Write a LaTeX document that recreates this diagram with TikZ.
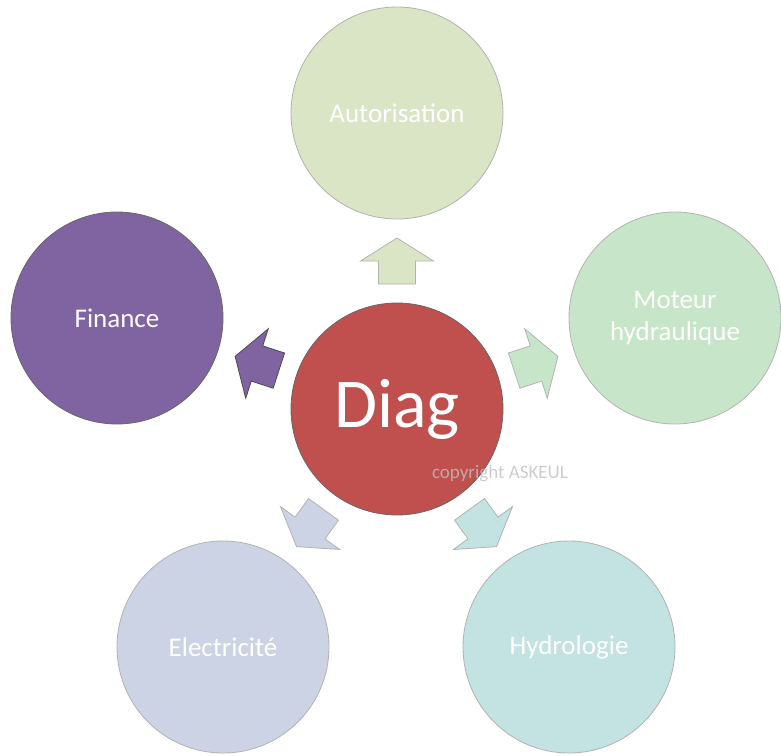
\documentclass[tikz,border=0pt]{standalone}
\usepackage{fontspec}
\setmainfont{Carlito}
\usetikzlibrary{calc}
\definecolor{diagred}{HTML}{C0504D}
\definecolor{finpurple}{HTML}{8064A2}
\definecolor{autgreen}{HTML}{DAE5C6}
\definecolor{motgreen}{HTML}{C7E6C9}
\definecolor{hydteal}{HTML}{C3E3E2}
\definecolor{elecblue}{HTML}{CCD3E4}

\begin{document}
\begin{tikzpicture}[x=1pt,y=-1pt,
   bubble/.style={circle,minimum size=212pt,inner sep=0pt,draw=black!30,line width=0.8pt,
                  text=white,align=center,font=\fontsize{27}{32}\selectfont},
   blockarrow/.pic={\draw[pic actions] (-23,-18.5) -- (0,-18.5) -- (0,-36.5) -- (23,0)
                    -- (0,36.5) -- (0,18.5) -- (-23,18.5) -- cycle;}]
   \useasboundingbox (0,0) rectangle (781,755);

   % centre
   \node[bubble,fill=diagred,draw=black!60,font=\fontsize{70}{72}\selectfont] (diag) at (397,409) {Diag};

   % outer circles
   \node[bubble,fill=autgreen]  (auto)  at (397,113) {Autorisation};
   \node[bubble,fill=finpurple,draw=black!60] (fin) at (117,318) {Finance};
   \node[bubble,fill=motgreen]  (mot)   at (675,318) {Moteur\\hydraulique};
   \node[bubble,fill=elecblue]  (elec)  at (223,647) {Electricit\'e};
   \node[bubble,fill=hydteal]   (hydro) at (569,647) {Hydrologie};

   % block arrows
   \foreach \n/\a/\c/\d in {auto/90/autgreen/black!30, fin/162/finpurple/black!70,
                            mot/18/motgreen/black!30, elec/234/elecblue/black!30,
                            hydro/306/hydteal/black!30}
     \pic[rotate=\a,fill=\c,draw=\d,line width=0.8pt] at ($(diag)!0.5!(\n)$) {blockarrow};

   \node[text=black!25,opacity=0.8,font=\fontsize{19}{21}\selectfont] (copy) at (500,474) {copyright ASKEUL};
\end{tikzpicture}
\end{document}
